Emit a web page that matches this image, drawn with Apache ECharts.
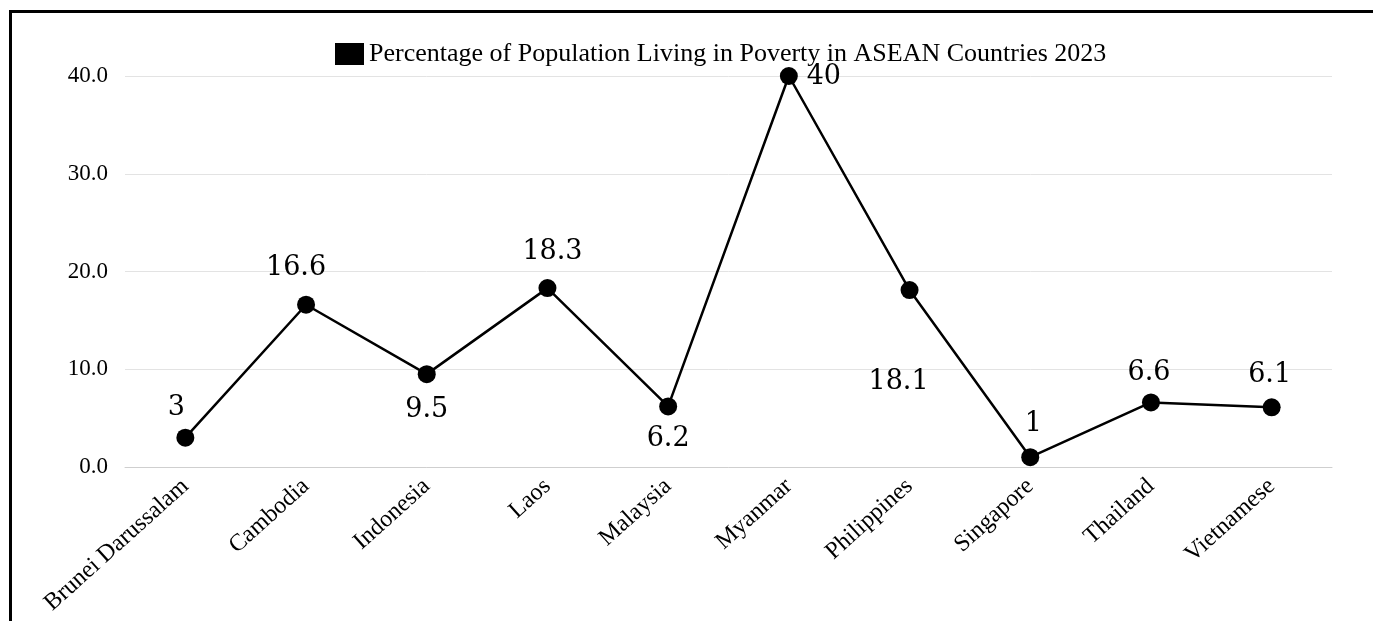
<!DOCTYPE html>
<html>
<head>
<meta charset="utf-8">
<script src="https://cdn.jsdelivr.net/npm/echarts@6/dist/echarts.min.js"></script>
<style>
  html, body { margin: 0; padding: 0; background: #fff; overflow: hidden; }
  #frame { position: absolute; left: 9px; top: 10px; width: 1500px; height: 700px;
           border-top: 3px solid #000; border-left: 3px solid #000; box-sizing: border-box; }
  #chart { position: absolute; left: 0; top: 0; width: 1373px; height: 621px; }
</style>
</head>
<body>
<div id="frame"></div>
<div id="chart"></div>
<script>
var chartDom = document.getElementById('chart');
var myChart = echarts.init(chartDom);

// poverty rate, percent of population, 2023
const countries = ['Brunei Darussalam', 'Cambodia', 'Indonesia', 'Laos', 'Malaysia',
  'Myanmar', 'Philippines', 'Singapore', 'Thailand', 'Vietnamese'];
const poverty = [3, 16.6, 9.5, 18.3, 6.2, 40, 18.1, 1, 6.6, 6.1];
const seriesName = 'Percentage of Population Living in Poverty in ASEAN Countries 2023';

// where each value label sits relative to its point
const labelOffsets = [[-9, -30], [-10, -37], [0, 36], [5, -36], [0, 33],
  [35, 1], [-11, 92], [3, -33], [-2, -30], [-2, -32]];

const serif = '"Liberation Serif", "Times New Roman", serif';

var option = {
  animation: false,
  legend: {
    left: 330,
    top: 36,
    itemWidth: 29,
    itemHeight: 22,
    itemGap: 10,
    icon: 'rect',
    textStyle: { fontFamily: serif, fontSize: 26, color: '#000' },
    data: [seriesName]
  },
  grid: { left: 125, right: 41, top: 76, bottom: 154 },
  xAxis: {
    type: 'category',
    data: countries,
    axisTick: { show: false },
    axisLine: { lineStyle: { color: '#cfcfcf', width: 1 } },
    axisLabel: { rotate: 42, fontFamily: serif, fontSize: 24, color: '#000', margin: 16 }
  },
  yAxis: {
    type: 'value',
    min: 0,
    max: 40,
    interval: 10,
    axisLine: { show: false },
    axisTick: { show: false },
    splitLine: { lineStyle: { color: '#e3e3e3', width: 1 } },
    axisLabel: {
      fontFamily: serif, fontSize: 23, color: '#000', margin: 17,
      formatter: (v) => v.toFixed(1)
    }
  },
  series: [{
    name: seriesName,
    type: 'line',
    data: poverty.map((v, i) => ({
      value: v,
      label: { offset: labelOffsets[i] }
    })),
    symbol: 'circle',
    symbolSize: 18,
    itemStyle: { color: '#000' },
    lineStyle: { color: '#000', width: 2.5 },
    label: {
      show: true,
      position: 'inside',
      align: 'center',
      verticalAlign: 'middle',
      fontFamily: '"DejaVu Serif", serif',
      fontSize: 27,
      color: '#000'
    }
  }]
};

option && myChart.setOption(option);
</script>
</body>
</html>
